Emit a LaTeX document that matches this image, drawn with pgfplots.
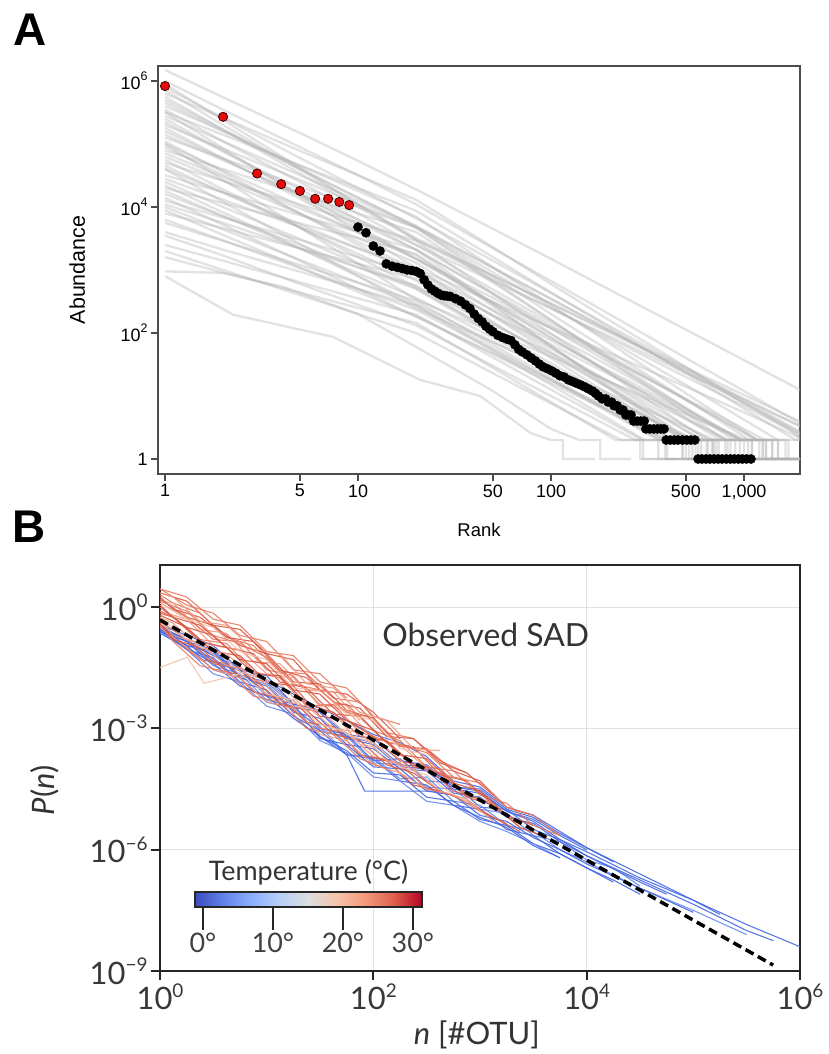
\documentclass[border=0pt]{standalone}
\usepackage{fontspec}
\setmainfont{Liberation Sans}
\newfontfamily\lato{Lato}
\usepackage{pgfplots}
\pgfplotsset{compat=1.18}
\usetikzlibrary{calc}
\definecolor{warmA}{RGB}{218,88,68}
\definecolor{warmB}{RGB}{232,122,96}
\definecolor{warmC}{RGB}{240,155,128}
\definecolor{warmD}{RGB}{244,190,170}
\definecolor{coolA}{RGB}{70,104,224}
\definecolor{coolB}{RGB}{105,138,236}
\definecolor{redpt}{RGB}{228,12,12}
\newcommand\supA[1]{\raisebox{0.5em}{\fontsize{12.5}{12.5}\selectfont #1}}
\newcommand\supB[1]{\raisebox{0.41em}{\fontsize{19}{19}\selectfont #1}}
\pgfplotsset{
  gl/.style={draw=black!30, opacity=0.38, line width=2.3bp},
  rl/.style={draw=#1, line width=1.1bp, opacity=0.9},
  bl/.style={draw=#1, line width=1.1bp, opacity=0.9},
}
\begin{document}
\begin{tikzpicture}[x=1bp,y=1bp]
\path[use as bounding box] (0,0) rectangle (829,1054);
\node[font=\fontsize{46}{46}\selectfont\bfseries] at (30,1024) {A};
\node[font=\fontsize{46}{46}\selectfont\bfseries] at (29,527) {B};

% ---------------- Panel A ----------------
\begin{axis}[
  at={(158bp,580bp)}, anchor=south west,
  scale only axis, width=642bp, height=408bp,
  xmode=log, ymode=log,
  xmin=0.92, xmax=1950, ymin=0.578, ymax=1.73e6,
  axis line style={draw=black!70, line width=1.2bp},
  tick align=outside, xtick pos=bottom, ytick pos=left,
  major tick length=7bp,
  tick style={black!70, line width=1.2bp},
  xminorticks=false, yminorticks=false,
  xtick={1,5,10,50,100,500,1000},
  xticklabels={1,5,10,50,100,500,{1,000}},
  ytick={1,100,10000,1000000},
  yticklabels={1,10\supA{2},10\supA{4},10\supA{6}},
  ticklabel style={font=\fontsize{18}{18}\selectfont},
  xlabel={Rank}, ylabel={Abundance},
  label style={font=\fontsize{18.5}{18.5}\selectfont},
  xlabel style={at={(axis description cs:0.5,-0.137)}, anchor=center},
  ylabel style={at={(axis description cs:-0.126,0.5)}, anchor=center, font=\fontsize{21.5}{21.5}\selectfont},
]
\addplot[gl] coordinates {(1,1.5e6)(2,5.5e5)(5,1.5e5)(10,5.4e4)(20,1.9e4)(50,4.5e3)(100,1.5e3)(200,490)(500,113)(1000,37)(2000,12)};
\addplot[gl] coordinates {(1,1.0e6)(2,3.5e5)(5,8.9e4)(10,3.2e4)(20,1.1e4)(50,2.2e3)(100,670)(200,200)(500,40)(1000,12)(2000,3.5)};
\addplot[gl] coordinates {(1,7.9e5)(2,2.6e5)(5,6e4)(10,2e4)(20,6.6e3)(50,1.4e3)(100,430)(200,130)(500,28)(1000,8.5)(2000,2.6)};
\addplot[gl] coordinates {(1,6.3e5)(2,2.6e5)(5,7.8e4)(10,3.2e4)(20,1.3e4)(50,2.3e3)(100,600)(200,160)(500,29)(1000,7.6)(1700,3)(2000,2)};
\addplot[gl] coordinates {(1,5e5)(2,1.7e5)(5,4.1e4)(10,1.4e4)(20,4.8e3)(50,920)(100,260)(200,76)(500,15)(1000,4.2)(1500,2)(2000,2)};
\addplot[gl] coordinates {(1,4e5)(2,1.6e5)(5,4.5e4)(10,1.8e4)(20,7e3)(50,1.1e3)(100,280)(200,69)(500,11)(1000,2.8)(1170,2)(1640,2)(1640,1)(2000,1)};
\addplot[gl] coordinates {(1,3.2e5)(2,1.4e5)(5,4.6e4)(10,2e4)(20,8.7e3)(50,1.6e3)(100,440)(200,123)(500,23)(1000,6.3)(1850,2)(2000,2)};
\addplot[gl] coordinates {(1,2.5e5)(2,7.8e4)(5,1.6e4)(10,5e3)(20,1.5e3)(50,360)(100,118)(200,39)(500,9)(1000,3)(1280,2)(1700,2)(1700,1)(2000,1)};
\addplot[gl] coordinates {(1,2e5)(2,8.4e4)(5,2.7e4)(10,1.1e4)(20,4.7e3)(50,790)(100,200)(200,52)(500,8.8)(1070,2)(1400,2)(1400,1)(2000,1)};
\addplot[gl] coordinates {(1,1.6e5)(2,5.8e4)(5,1.5e4)(10,5.6e3)(20,2.1e3)(50,430)(100,132)(200,41)(500,8.6)(1180,2)(1500,2)(1500,1)(2000,1)};
\addplot[gl] coordinates {(1,1.26e5)(2,5.9e4)(5,2.1e4)(10,1e4)(20,4.7e3)(50,680)(100,160)(200,37)(500,5.4)(800,2)(1050,2)(1050,1)(1500,1)};
\addplot[gl] coordinates {(1,1e5)(2,3.8e4)(5,1.05e4)(10,4e3)(20,1.5e3)(50,290)(100,83)(200,24)(500,4.6)(800,2)(1100,2)(1100,1)(1600,1)};
\addplot[gl] coordinates {(1,7.9e4)(2,4e4)(5,1.6e4)(10,7.9e3)(20,4e3)(50,630)(100,160)(200,40)(500,6.3)(890,2)(1200,2)(1200,1)(2000,1)};
\addplot[gl] coordinates {(1,6.3e4)(2,2.6e4)(5,7.8e3)(10,3.2e3)(20,1.3e3)(50,225)(100,60)(200,16)(500,2.8)(600,2)(800,2)(800,1)(1200,1)};
\addplot[gl] coordinates {(1,5e4)(2,2.6e4)(5,1.1e4)(10,5.6e3)(20,2.9e3)(50,420)(100,98)(200,23)(500,3.3)(640,2)(850,2)(850,1)(1300,1)};
\addplot[gl] coordinates {(1,4e4)(2,1.7e4)(5,5.3e3)(10,2.2e3)(20,940)(50,190)(100,56)(200,17)(500,3.3)(670,2)(900,2)(900,1)(1400,1)};
\addplot[gl] coordinates {(1,3.2e4)(2,1.7e4)(5,7.4e3)(10,4e3)(20,2.1e3)(50,285)(100,62)(200,13.5)(476,2)(640,2)(640,1)(1000,1)};
\addplot[gl] coordinates {(1,2.5e4)(2,1e4)(5,3.1e3)(10,1.26e3)(20,510)(50,108)(100,33)(200,10)(520,2)(700,2)(700,1)(1100,1)};
\addplot[gl] coordinates {(1,2e4)(2,1.15e4)(5,5.5e3)(10,3.2e3)(20,1.8e3)(50,265)(100,62)(200,14.5)(510,2)(680,2)(680,1)(1050,1)};
\addplot[gl] coordinates {(1,1.6e4)(2,7.1e3)(5,2.5e3)(10,1.1e3)(20,500)(50,96)(100,28)(200,7.9)(430,2)(580,2)(580,1)(900,1)};
\addplot[gl] coordinates {(1,1.26e4)(2,6.8e3)(5,3e3)(10,1.6e3)(20,850)(50,150)(100,40)(200,10.7)(484,2)(650,2)(650,1)(1000,1)};
\addplot[gl] coordinates {(1,1e4)(2,4.4e3)(5,1.45e3)(10,630)(20,275)(50,58)(100,18)(200,5.5)(362,2)(480,2)(480,1)(750,1)};
\addplot[gl] coordinates {(1,7.9e3)(2,4.6e3)(5,2.2e3)(10,1.26e3)(20,720)(50,116)(100,29)(200,7.2)(380,2)(500,2)(500,1)(800,1)};
\addplot[gl] coordinates {(1,6.3e3)(2,2.95e3)(5,1.07e3)(10,500)(20,234)(50,54)(100,18)(200,5.9)(393,2)(520,2)(520,1)(800,1)};
\addplot[gl] coordinates {(1,4e3)(2,2.1e3)(5,940)(10,500)(20,270)(50,52)(100,15)(200,4.3)(305,2)(400,2)(400,1)(600,1)};
\addplot[gl] coordinates {(1,2.5e3)(2,1.4e3)(5,640)(10,355)(20,196)(50,41)(100,12.6)(200,3.9)(296,2)(390,2)(390,1)(600,1)};
\addplot[gl] coordinates {(1,1.6e3)(2,910)(5,440)(10,250)(20,145)(50,28)(100,8)(216,2)(290,2)(290,1)(450,1)};
\addplot[gl] coordinates {(1,950)(2,900)(4.1,540)(10,200)(20,60)(50,12)(100,3)(140,2)(180,2)(180,1)(260,1)};
\addplot[gl] coordinates {(1,800)(2.25,195)(7.4,87)(21,18)(43,10)(78,2.6)(100,2)(115,2)(115,1)(170,1)};
\addplot[gl] coordinates {(1,8.9e5)(2,2.4e5)(5,4.2e4)(10,1.1e4)(20,3e3)(50,800)(100,295)(200,107)(500,28)(1000,10.4)(2000,3.8)};
\addplot[gl] coordinates {(1,3.2e5)(2,8.5e4)(5,1.5e4)(10,4e3)(20,1.07e3)(50,310)(100,122)(200,48)(500,14)(1000,5.5)(2000,2.1)};
\addplot[gl] coordinates {(1,1e5)(2,2.7e4)(5,4.7e3)(10,1.26e3)(20,340)(50,103)(100,42)(200,17)(500,5.1)(1040,2)(1400,2)(1400,1)(2000,1)};
\addplot[gl] coordinates {(1,4e4)(2,1.2e4)(5,2.6e3)(10,800)(20,245)(50,71)(100,28)(200,11)(500,3.2)(705,2)(950,2)(950,1)(1500,1)};
\addplot[gl] coordinates {(1,5.6e5)(2,1.7e5)(5,3.4e4)(10,1e4)(20,3e3)(50,710)(100,245)(200,83)(500,20)(1000,6.9)(2000,2.3)};
\addplot[gl] coordinates {(1,1.8e5)(2,5.9e4)(5,1.35e4)(10,4.5e3)(20,1.5e3)(50,310)(100,96)(200,30)(500,6.2)(975,2)(1300,2)(1300,1)(2000,1)};
\addplot[gl] coordinates {(1,8.9e4)(2,3.2e4)(5,7.9e3)(10,2.8e3)(20,1e3)(50,230)(100,76)(200,25)(500,5.8)(970,2)(1300,2)(1300,1)(2000,1)};
\addplot[gl] coordinates {(1,2.2e4)(2,8.2e3)(5,2.2e3)(10,800)(20,290)(50,73)(100,26)(200,9.1)(500,2.3)(550,2)(740,2)(740,1)(1200,1)};
\addplot[gl] coordinates {(1,2.8e5)(2,1.1e5)(5,3.2e4)(10,1.26e4)(20,4.9e3)(50,1.07e3)(100,345)(200,110)(500,24)(1000,7.7)(2000,2.4)};
\addplot[gl] coordinates {(1,4.5e5)(2,1.6e5)(5,4e4)(10,1.4e4)(20,5e3)(50,1.1e3)(100,350)(200,112)(500,25)(1000,7.9)(2000,2.5)};
\addplot[gl] coordinates {(1,2.2e5)(2,7.6e4)(5,1.9e4)(10,6.3e3)(20,2.1e3)(50,410)(100,118)(200,34)(500,6.5)(960,2)(1250,2)(1250,1)(1900,1)};
\addplot[gl] coordinates {(1,1.4e5)(2,5.5e4)(5,1.6e4)(10,6.3e3)(20,2.5e3)(50,490)(100,148)(200,44)(500,8.7)(1160,2)(1500,2)(1500,1)(1950,1)};
\addplot[gl] coordinates {(1,7.1e4)(2,3e4)(5,9.5e3)(10,4e3)(20,1.7e3)(50,300)(100,85)(200,23)(500,4.3)(757,2)(1000,2)(1000,1)(1500,1)};
\addplot[gl] coordinates {(1,4.5e4)(2,1.7e4)(5,4.7e3)(10,1.8e3)(20,680)(50,142)(100,44)(200,13.5)(500,2.8)(615,2)(820,2)(820,1)(1250,1)};
\addplot[gl] coordinates {(1,2.8e4)(2,1.3e4)(5,4.8e3)(10,2.2e3)(20,1.05e3)(50,183)(100,49)(200,13)(540,2)(720,2)(720,1)(1100,1)};
\addplot[gl] coordinates {(1,1.8e4)(2,7.2e3)(5,2.2e3)(10,890)(20,360)(50,84)(100,28)(200,9.1)(516,2)(690,2)(690,1)(1050,1)};
\addplot[gl] coordinates {(1,1.1e4)(2,5.6e3)(5,2.2e3)(10,1.1e3)(20,560)(50,103)(100,29)(200,7.9)(422,2)(560,2)(560,1)(850,1)};
\addplot[gl] coordinates {(1,5.6e3)(2,2.9e3)(5,1.2e3)(10,630)(20,325)(50,65)(100,19.5)(200,5.8)(366,2)(480,2)(480,1)(720,1)};
\addplot[gl] coordinates {(1,3.5e3)(2,1.7e3)(5,600)(10,280)(20,132)(50,30)(100,10)(200,3.3)(274,2)(360,2)(360,1)(550,1)};
\addplot[gl] coordinates {(1,7.1e5)(2,2e5)(5,3.9e4)(10,1.1e4)(20,3.2e3)(50,820)(100,290)(200,102)(500,26)(1000,9.1)(2000,3.2)};
\addplot[gl] coordinates {(1,1.1e5)(2,3.6e4)(5,7.9e3)(10,2.5e3)(20,800)(50,192)(100,66)(200,22)(500,5.4)(950,2)(1250,2)(1250,1)(1900,1)};
\addplot[gl] coordinates {(1,5.6e4)(2,1.9e4)(5,4.7e3)(10,1.6e3)(20,540)(50,136)(100,48)(200,17)(500,4.3)(830,2)(1100,2)(1100,1)(1700,1)};
\addplot[gl] coordinates {(1,1.4e4)(2,5.2e3)(5,1.4e3)(10,500)(20,183)(50,48)(100,17.6)(200,6.5)(449,2)(600,2)(600,1)(900,1)};
\addplot[gl] coordinates {(1,8.9e3)(2,3.6e3)(5,1.1e3)(10,450)(20,182)(50,46)(100,16)(200,5.8)(405,2)(540,2)(540,1)(820,1)};
\addplot[gl] coordinates {(1,2e3)(2,1e3)(5,400)(10,200)(20,100)(50,23)(100,7.6)(231,2)(300,2)(300,1)(470,1)};
\addplot[gl] coordinates {(1,3.5e5)(2,1.1e5)(5,2.5e4)(10,7.9e3)(20,2.5e3)(50,665)(100,245)(200,89)(500,23)(1000,8.7)(2000,3.2)};
% observed black points
\addplot[only marks, mark=*, mark size=4.6bp, black] coordinates {
(10,4800)(11,3900)(12,2400)(13,2000)(14,1250)(15,1150)(16,1100)(17,1050)(18,1000)(19,980)
(20,950)(21,880)(22,700)(23,580)(24,500)(25,460)(26,425)(27,400)(28,390)(29,385)
(30,380)(32,350)(34,320)(36,280)(38,245)(40,200)(42,170)(44,150)(46,128)(48,115)
(50,105)(53,92)(56,85)(59,80)(62,76)(65,65)(68,55)(71,50)(75,45)(79,40)
(83,36)(87,32)(91,29)(96,27)(101,25)(106,23)(111,21)(117,20)(123,18)(129,17)
(135,16)(142,15)(149,14)(156,13)(164,12)(170,11)(176,10)(184,9)(192,9)(198,8)
(206,8)(212,7)(220,7)(228,6)(236,6)(244,5)(252,5)(260,5)(268,4)(280,4)
(292,4)(304,4)(310,3)(325,3)(340,3)(355,3)(370,3)(385,3)(395,2)(415,2)
(435,2)(455,2)(480,2)(505,2)(530,2)(556,2)(578,1)(605,1)(635,1)(665,1)
(700,1)(735,1)(770,1)(810,1)(850,1)(890,1)(935,1)(980,1)(1030,1)(1086,1)};
% observed red points (top 9)
\addplot[only marks, mark=*, mark size=4.6bp, mark options={fill=redpt, draw=black!75!red, line width=0.8bp}] coordinates {
(1,8.3e5)(2,2.7e5)(3,3.4e4)(4,2.3e4)(5,1.8e4)(6,1.35e4)(7,1.35e4)(8,1.2e4)(9,1.07e4)};
\end{axis}

% ---------------- Panel B ----------------
\begin{axis}[
  at={(160bp,83bp)}, anchor=south west,
  scale only axis, width=640bp, height=406bp,
  xmode=log, ymode=log,
  xmin=1, xmax=1e6, ymin=1e-9, ymax=11,
  grid=major, grid style={black!12, line width=1bp},
  axis line style={draw=black!85, line width=2bp},
  tick align=outside, xtick pos=bottom, ytick pos=left,
  major tick length=9bp,
  tick style={black!85, line width=2bp},
  xminorticks=false, yminorticks=false,
  xtick={1,100,10000,1000000},
  xticklabels={10\supB{0},10\supB{2},10\supB{4},10\supB{6}},
  ytick={1e-9,1e-6,1e-3,1},
  yticklabels={10\supB{−9},10\supB{−6},10\supB{−3},10\supB{0}},
  ticklabel style={font=\lato\fontsize{31}{31}\selectfont, text=black!78},
  xlabel={\itshape n\upshape\ [\#OTU]}, ylabel={\itshape P\upshape(\itshape n\upshape)},
  label style={font=\lato\fontsize{31}{31}\selectfont, text=black!80},
  xlabel style={at={(axis description cs:0.495,-0.158)}, anchor=center},
  ylabel style={at={(axis description cs:-0.18,0.446)}, anchor=center},
  colormap={cw}{rgb255=(59,76,192) rgb255=(98,130,234) rgb255=(141,176,254) rgb255=(184,208,249) rgb255=(221,221,221) rgb255=(245,196,173) rgb255=(244,154,123) rgb255=(222,96,77) rgb255=(180,4,38)},
  point meta min=-1.14, point meta max=31.3,
  colorbar horizontal,
  colorbar style={
    at={($(parent axis.south west)+(35bp,73bp)$)}, anchor=south west,
    scale only axis, width=227bp, height=15bp,
    xtick={0,10,20,30}, xticklabels={0°,10°,20°,30°},
    xtick pos=bottom, xticklabel pos=bottom,
    tick align=outside, major tick length=23bp,
    xtick style={line width=2.5bp, black!85},
    axis line style={line width=2bp, draw=black!85},
    ticklabel style={font=\lato\fontsize{27}{27}\selectfont, text=black!75},
    ytick=\empty,
    grid=none,
    title={Temperature (°C)},
    title style={font=\lato\fontsize{27}{27}\selectfont, text=black!80, yshift=-3bp},
  },
]
% blue (cold) samples
\addplot[bl=coolA] coordinates {(1,0.355)(1.78,0.141)(3.16,8.91e-2)(5.62,2.0e-2)(10,1.41e-2)(17.8,3.55e-3)(31.6,2.51e-3)(56.2,5.62e-4)(100,3.98e-4)(178,1.12e-4)(316,1.0e-4)(562,3.16e-5)(1000,2.51e-5)(1780,8.91e-6)(3160,5.01e-6)(5620,1.78e-6)(1e4,8.91e-7)(3.16e4,2.0e-7)(1e5,5.62e-8)(3.16e5,1.41e-8)(1e6,3.98e-9)};
\addplot[bl=coolA] coordinates {(1,0.316)(1.78,0.158)(3.16,4.47e-2)(5.62,2.82e-2)(10,7.08e-3)(17.8,5.01e-3)(31.6,1.0e-3)(56.2,7.08e-4)(100,1.58e-4)(178,1.78e-4)(316,5.01e-5)(562,4.47e-5)(1000,1.12e-5)(1780,1.0e-5)(3160,3.16e-6)(5620,1.78e-6)(1e4,7.08e-7)(3.16e4,1.78e-7)(1e5,4.47e-8)(3.16e5,1.0e-8)(5.62e5,5.62e-9)};
\addplot[bl=coolB] coordinates {(1,0.251)(1.78,0.112)(3.16,7.08e-2)(5.62,1.78e-2)(10,1.26e-2)(17.8,2.82e-3)(31.6,1.12e-3)(56.2,2.24e-4)(100,2.0e-4)(178,5.62e-5)(316,6.31e-5)(562,1.58e-5)(1000,1.26e-5)(1780,3.98e-6)(3160,2.82e-6)(5620,1.0e-6)(1e4,5.01e-7)(3.16e4,1.12e-7)(1e5,3.16e-8)(3.16e5,7.94e-9)};
\addplot[bl=coolA] coordinates {(1,0.355)(1.78,0.2)(3.16,0.112)(5.62,2.82e-2)(10,2.0e-2)(17.8,3.98e-3)(31.6,2.82e-3)(56.2,7.08e-4)(100,5.62e-4)(178,1.58e-4)(316,1.26e-4)(562,3.55e-5)(1000,3.16e-5)(1780,1.0e-5)(3160,6.31e-6)(5620,2.51e-6)(1e4,1.12e-6)(3.16e4,2.51e-7)(1e5,5.62e-8)(1.78e5,2.51e-8)};
\addplot[bl=coolA] coordinates {(1,0.251)(1.78,0.112)(3.16,2.82e-2)(5.62,1.78e-2)(10,4.47e-3)(17.8,3.16e-3)(31.6,6.31e-4)(56.2,2.82e-4)(100,7.94e-5)(178,7.08e-5)(316,2.0e-5)(562,1.58e-5)(1000,5.62e-6)(1780,3.98e-6)(3160,1.41e-6)(5620,7.94e-7)(1e4,3.55e-7)(1.78e4,1.78e-7)(3.16e4,7.94e-8)};
\addplot[bl=coolB] coordinates {(1,0.282)(1.78,0.141)(3.16,3.55e-2)(5.62,2.24e-2)(10,5.01e-3)(17.8,3.55e-3)(31.6,8.91e-4)(56.2,6.31e-4)(100,1.41e-4)(178,1.26e-4)(316,3.55e-5)(562,3.16e-5)(1000,1.0e-5)(1780,7.94e-6)(3160,2.24e-6)(5620,1.58e-6)(1e4,5.62e-7)(1.78e4,3.55e-7)(3.16e4,1.26e-7)};
\addplot[bl=coolA] coordinates {(1,0.282)(1.78,8.91e-2)(3.16,5.62e-2)(5.62,1.41e-2)(10,8.91e-3)(17.8,2.0e-3)(31.6,8.91e-4)(56.2,2.24e-4)(100,1.78e-4)(178,5.01e-5)(316,3.98e-5)(562,1.26e-5)(1000,1.0e-5)(1780,3.16e-6)(3160,2.24e-6)(5620,7.94e-7)(1e4,3.55e-7)(1.78e4,1.58e-7)};
\addplot[bl=coolA] coordinates {(1,0.316)(1.78,0.158)(3.16,0.1)(5.62,2.51e-2)(10,1.58e-2)(17.8,3.98e-3)(31.6,2.82e-3)(56.2,6.31e-4)(100,4.47e-4)(178,1.26e-4)(316,1.12e-4)(562,3.55e-5)(1000,2.82e-5)(1780,8.91e-6)(3160,5.62e-6)(5620,2.24e-6)(1e4,1.0e-6)};
\addplot[bl=coolB] coordinates {(1,0.251)(1.78,8.91e-2)(3.16,2.24e-2)(5.62,1.41e-2)(10,3.55e-3)(17.8,2.24e-3)(31.6,5.01e-4)(56.2,2.51e-4)(100,6.31e-5)(178,5.01e-5)(316,1.58e-5)(562,1.26e-5)(1000,5.01e-6)(1780,2.82e-6)(3160,1.41e-6)(5620,6.31e-7)};
\addplot[bl=coolA] coordinates {(1,0.316)(1.78,0.112)(3.16,7.94e-2)(5.62,1.78e-2)(10,1.12e-2)(17.8,2.51e-3)(31.6,1.78e-3)(56.2,3.98e-4)(100,3.16e-4)(178,1.0e-4)(316,8.91e-5)(562,2.51e-5)(1000,2.0e-5)(1780,6.31e-6)(3160,4.47e-6)(5620,1.58e-6)(1e4,7.08e-7)(3.16e4,1.58e-7)(5.62e4,7.94e-8)};
\addplot[bl=coolA] coordinates {(1,0.251)(1.78,0.141)(3.16,3.98e-2)(5.62,2.82e-2)(10,6.31e-3)(17.8,3.98e-3)(31.6,5.62e-4)(56.2,3.98e-4)(100,1.12e-4)(178,1.0e-4)(316,2.82e-5)(562,2.24e-5)(1000,7.08e-6)(1780,5.01e-6)(3160,2.0e-6)(5620,1.0e-6)(1e4,4.47e-7)(3.16e4,1.12e-7)(1e5,2.82e-8)};
\addplot[bl=coolA] coordinates {(1,0.224)(1.78,0.1)(3.16,3.98e-2)(5.62,1.12e-2)(10,6.31e-3)(17.8,1.78e-3)(31.6,6.31e-4)(56.2,2.24e-4)(83,2.82e-5)(380,2.82e-5)(562,1.26e-5)(1000,6.31e-6)(1780,3.55e-6)(3160,1.26e-6)(5620,6.31e-7)};
\addplot[bl=coolA] coordinates {(1,0.316)(3.16,6.31e-2)(10,1.58e-2)(31.6,3.16e-3)(56.2,1.58e-3)(100,7.08e-4)(178,4.47e-4)(316,2.0e-4)(562,5.01e-5)(1000,3.55e-5)(1780,1.12e-5)(3160,7.08e-6)(5620,2.82e-6)(1e4,1.12e-6)(1.78e4,5.01e-7)};
% red (warm) samples
\addplot[rl=warmB] coordinates {(1,0.447)(1.78,0.158)(3.16,3.98e-2)(5.62,3.16e-2)(10,7.08e-3)(17.8,5.01e-3)(31.6,1.0e-3)(56.2,7.94e-4)(100,2.0e-4)(178,1.41e-4)(316,3.16e-5)(562,2.24e-5)(1000,8.91e-6)(1780,4.47e-6)};
\addplot[rl=warmA] coordinates {(1,0.355)(1.33,0.178)(2.37,5.01e-2)(4.22,3.98e-2)(7.5,7.94e-3)(13.3,5.62e-3)(23.7,1.41e-3)(42.2,1.12e-3)(75,2.24e-4)(133,1.58e-4)(237,3.98e-5)(422,2.82e-5)};
\addplot[rl=warmC] coordinates {(1,0.316)(1.78,0.1)(3.16,2.82e-2)(5.62,1.78e-2)(10,4.47e-3)(17.8,3.16e-3)(31.6,7.08e-4)(56.2,5.01e-4)(100,1.26e-4)(178,7.94e-5)(316,3.16e-5)};
\addplot[rl=warmA] coordinates {(1,0.398)(1.33,0.158)(2.37,0.1)(4.22,2.51e-2)(7.5,1.78e-2)(13.3,3.98e-3)(23.7,2.82e-3)(42.2,7.08e-4)(75,5.01e-4)(133,1.26e-4)(237,7.94e-5)(422,2.82e-5)(750,1.58e-5)(1330,6.31e-6)(2370,2.82e-6)};
\addplot[rl=warmD] coordinates {(1,0.562)(1.78,0.158)(3.16,0.1)(5.62,2.51e-2)(10,1.58e-2)(17.8,3.55e-3)(31.6,2.82e-3)(56.2,7.08e-4)(100,4.47e-4)(178,1.12e-4)(316,7.08e-5)(562,2.24e-5)(1000,1.12e-5)};
\addplot[rl=warmB] coordinates {(1,0.355)(1.33,0.141)(2.37,3.55e-2)(4.22,2.51e-2)(7.5,6.31e-3)(13.3,4.47e-3)(23.7,1.0e-3)(42.2,7.08e-4)(75,1.78e-4)(133,1.0e-4)};
\addplot[rl=warmA] coordinates {(1,2.24)(1.78,1.41)(3.16,0.355)(5.62,0.282)(10,7.08e-2)(17.8,5.01e-2)(31.6,8.91e-3)(56.2,7.08e-3)(100,2.51e-3)(178,5.62e-4)};
\addplot[rl=warmB] coordinates {(1,2.0)(1.33,1.26)(2.37,0.708)(4.22,0.178)(7.5,0.112)(13.3,2.51e-2)(23.7,2.24e-2)(42.2,5.62e-3)(75,4.47e-3)(133,7.94e-4)(237,5.62e-4)(422,1.58e-4)(750,7.94e-5)};
\addplot[rl=warmA] coordinates {(1,1.58)(1.78,0.562)(3.16,0.355)(5.62,0.112)(10,7.08e-2)(17.8,1.41e-2)(31.6,1.26e-2)(56.2,2.82e-3)(100,1.78e-3)(178,3.55e-4)(316,3.16e-4)(562,8.91e-5)(1000,5.01e-5)(1780,1.12e-5)(3160,7.08e-6)};
\addplot[rl=warmC] coordinates {(1,1.41)(1.33,1.26)(2.37,0.282)(4.22,0.224)(7.5,4.47e-2)(13.3,3.98e-2)(23.7,8.91e-3)(42.2,7.94e-3)(75,1.58e-3)};
\addplot[rl=warmB] coordinates {(1,1.26)(1.78,0.562)(3.16,0.158)(5.62,0.141)(10,2.82e-2)(17.8,2.0e-2)(31.6,3.55e-3)(56.2,3.98e-3)(100,8.91e-4)(178,5.01e-4)(316,1.12e-4)(562,8.91e-5)(1000,2.24e-5)(1780,1.41e-5)(3160,3.98e-6)(5620,2.24e-6)};
\addplot[rl=warmA] coordinates {(1,1.12)(1.33,0.562)(2.37,0.355)(4.22,0.1)(7.5,7.08e-2)(13.3,1.41e-2)(23.7,1.0e-2)(42.2,2.24e-3)(75,2.0e-3)(133,4.47e-4)(237,3.55e-4)(422,7.08e-5)(750,5.01e-5)(1330,1.26e-5)};
\addplot[rl=warmC] coordinates {(1,0.794)(1.78,0.501)(3.16,0.112)(5.62,8.91e-2)(10,2.24e-2)(17.8,1.78e-2)(31.6,3.98e-3)(56.2,2.82e-3)(100,5.62e-4)(178,3.98e-4)(316,1.0e-4)(562,6.31e-5)};
\addplot[rl=warmB] coordinates {(1,0.794)(1.33,0.562)(2.37,0.158)(4.22,0.126)(7.5,2.51e-2)(13.3,1.78e-2)(23.7,3.55e-3)(42.2,3.98e-3)(75,7.94e-4)(133,5.01e-4)(237,1.26e-4)(422,1.0e-4)(750,2.24e-5)(1330,1.41e-5)(2370,3.55e-6)};
\addplot[rl=warmA] coordinates {(1,0.631)(1.78,0.316)(3.16,7.94e-2)(5.62,6.31e-2)(10,1.41e-2)(17.8,1.12e-2)(31.6,2.0e-3)(56.2,1.58e-3)(100,6.31e-4)(178,1.58e-4)(316,1.12e-4)(562,2.82e-5)(1000,1.78e-5)};
\addplot[rl=warmC] coordinates {(1,0.562)(1.33,0.398)(2.37,0.1)(4.22,7.08e-2)(7.5,1.58e-2)(13.3,1.26e-2)(23.7,2.82e-3)(42.2,2.51e-3)(75,3.98e-4)(133,3.16e-4)(237,8.91e-5)};
\addplot[rl=warmB] coordinates {(1,2.82)(1.78,1.12)(3.16,0.708)(5.62,0.2)(10,0.141)(17.8,2.82e-2)(31.6,2.24e-2)(56.2,5.62e-3)};
\addplot[rl=warmA] coordinates {(1,1.78)(1.33,0.891)(2.37,0.562)(4.22,0.178)(7.5,0.141)(13.3,2.82e-2)(23.7,1.78e-2)(42.2,4.47e-3)(75,3.16e-3)(133,6.31e-4)(237,5.62e-4)(422,1.41e-4)(750,7.94e-5)(1330,2.24e-5)};
\addplot[rl=warmD] coordinates {(1,1.26)(1.78,0.501)(3.16,0.316)(5.62,7.94e-2)(10,5.01e-2)(17.8,1.0e-2)(31.6,8.91e-3)(56.2,2.24e-3)(100,1.58e-3)(178,3.16e-4)(316,2.24e-4)};
\addplot[rl=warmA] coordinates {(1,0.708)(1.33,0.562)(2.37,0.141)(4.22,0.1)(7.5,2.24e-2)(13.3,2.0e-2)(23.7,3.98e-3)(42.2,2.51e-3)(75,6.31e-4)(133,5.01e-4)(237,1.12e-4)(422,7.94e-5)(750,2.0e-5)(1330,1.26e-5)(2370,3.55e-6)(4220,2.0e-6)};
\addplot[rl=warmB] coordinates {(1,2.82)(1.78,1.78)(3.16,0.501)(5.62,0.355)(10,7.94e-2)(17.8,6.31e-2)(31.6,1.41e-2)(56.2,1.0e-2)(100,2.0e-3)(178,1.26e-3)};
\addplot[rl=warmC] coordinates {(1,0.447)(1.33,0.2)(2.37,0.126)(4.22,3.55e-2)(7.5,2.51e-2)(13.3,5.01e-3)(23.7,3.55e-3)(42.2,1.0e-3)(75,7.94e-4)(133,1.58e-4)(237,1.0e-4)(422,2.82e-5)(750,1.78e-5)(1330,5.01e-6)};
\addplot[rl=warmA] coordinates {(1,1.0)(1.78,0.316)(3.16,0.2)(5.62,5.01e-2)(10,3.98e-2)(17.8,8.91e-3)(31.6,7.08e-3)(56.2,1.58e-3)(100,8.91e-4)(178,2.24e-4)(316,1.78e-4)(562,4.47e-5)(1000,2.82e-5)(1780,7.08e-6)(3160,3.98e-6)};
\addplot[rl=warmC] coordinates {(1,2.24)(1.33,1.78)(2.37,0.447)(4.22,0.355)(7.5,8.91e-2)(13.3,7.08e-2)(23.7,1.26e-2)(42.2,1.0e-2)(75,2.51e-3)(133,1.58e-3)(237,3.16e-4)(422,2.82e-4)};
\addplot[rl=warmD] coordinates {(1,3.2e-2)(1.8,5.8e-2)(2.6,1.3e-2)(5.62,2.24e-2)(10,7.08e-3)(17.8,5.01e-3)(31.6,1.26e-3)(56.2,7.94e-4)(100,2.0e-4)};
\addplot[rl=warmB] coordinates {(1,1.41)(1.78,0.794)(3.16,0.2)(5.62,0.126)(10,5.62e-2)(17.8,1.26e-2)(31.6,8.91e-3)(56.2,2.51e-3)(100,1.78e-3)(178,3.98e-4)(316,2.51e-4)(562,6.31e-5)(1000,4.47e-5)(1780,1.12e-5)(3160,7.08e-6)(5620,2.24e-6)};
% fitted power law
\addplot[black, line width=3.5bp, dash pattern=on 9bp off 5bp] coordinates {(1,0.48)(5.6e5,1.4e-9)};
\node[anchor=west, inner sep=0pt, font=\lato\fontsize{32}{32}\selectfont, text=black!80] at (rel axis cs:0.347,0.828) {Observed SAD};
\end{axis}
\end{tikzpicture}
\end{document}
